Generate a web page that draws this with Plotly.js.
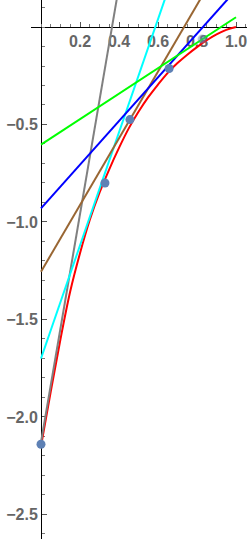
<!DOCTYPE html>
<html>
<head>
<meta charset="utf-8">
<script src="https://cdn.plot.ly/plotly-3.0.1.min.js"></script>
<style>html,body{margin:0;padding:0;background:#fff;}#chart{width:249px;height:541px;}</style>
</head>
<body>
<div id="chart"></div>
<script>
// Red curve
const curveX = [0, 0.05, 0.1, 0.15, 0.2, 0.25, 0.3, 0.35, 0.4, 0.45, 0.5, 0.55, 0.6, 0.65, 0.7, 0.75, 0.8, 0.85, 0.9, 0.95, 1.0];
const curveY = [-2.15, -1.87, -1.60, -1.355, -1.16, -0.99, -0.85, -0.73, -0.62, -0.52, -0.435, -0.36, -0.295, -0.235, -0.185, -0.142, -0.103, -0.068, -0.038, -0.015, 0];

// Sample points
const pointX = [0, 0.328, 0.456, 0.657, 0.826];
const pointY = [-2.14, -0.80, -0.475, -0.213, -0.062];

// Tangent lines: endpoints
const grayX = [0, 0.40],  grayY = [-2.13, 0.21];
const cyanX = [0, 0.65],  cyanY = [-1.70, 0.185];
const brownX = [0, 0.85], brownY = [-1.255, 0.199];
const blueX = [0, 1.0],   blueY = [-0.93, 0.19];
const greenX = [0, 1.0],  greenY = [-0.603, 0.05];

// Ticks
const xTickVals = [0.2, 0.4, 0.6, 0.8, 1.0];
const xTickText = ["0.2", "0.4", "0.6", "0.8", "1.0"];
const yTickVals = [-0.5, -1.0, -1.5, -2.0, -2.5];
const yTickText = ["\u22120.5", "\u22121.0", "\u22121.5", "\u22122.0", "\u22122.5"];

const xRange = [-0.0513, 1.0564];
const yRange = [-2.626, 0.1385];

function line(x, y, color) {
  return {x: x, y: y, type: 'scatter', mode: 'lines', line: {color: color, width: 2}, hoverinfo: 'skip'};
}

const traces = [
  {x: curveX, y: curveY, type: 'scatter', mode: 'lines', line: {color: '#ff0000', width: 2, shape: 'spline'}},
  line(grayX, grayY, '#808080'),
  line(cyanX, cyanY, '#00ffff'),
  line(brownX, brownY, '#996633'),
  line(blueX, blueY, '#0000ff'),
  line(greenX, greenY, '#00ff00'),
  {x: pointX, y: pointY, type: 'scatter', mode: 'markers',
   marker: {color: '#5e81b5', size: 9, opacity: [1, 1, 1, 1, 0.45]}, cliponaxis: false}
];

const tickFont = {family: 'Liberation Sans, Arial, sans-serif', size: 16, color: '#666666', weight: 'bold'};

const layout = {
  width: 249, height: 541,
  margin: {l: 31, r: 2, t: 0, b: 2},
  paper_bgcolor: '#ffffff', plot_bgcolor: '#ffffff',
  showlegend: false,
  xaxis: {
    range: xRange, anchor: 'free',
    position: (0 - yRange[0]) / (yRange[1] - yRange[0]),
    showline: true, linecolor: '#000', linewidth: 1,
    showgrid: false, zeroline: false,
    tickmode: 'array', tickvals: xTickVals, ticktext: xTickText,
    ticks: 'inside', ticklen: 5, tickcolor: '#555', tickwidth: 1,
    minor: {tickmode: 'linear', tick0: 0, dtick: 0.05, ticks: 'inside', ticklen: 3, tickcolor: '#777', showgrid: false},
    tickfont: tickFont, layer: 'below traces', fixedrange: true
  },
  yaxis: {
    range: yRange, anchor: 'free',
    position: (0 - xRange[0]) / (xRange[1] - xRange[0]),
    showline: true, linecolor: '#000', linewidth: 1,
    showgrid: false, zeroline: false,
    tickmode: 'array', tickvals: yTickVals, ticktext: yTickText,
    ticks: 'inside', ticklen: 5, tickcolor: '#555', tickwidth: 1,
    minor: {tickmode: 'linear', tick0: 0, dtick: 0.1, ticks: 'inside', ticklen: 3, tickcolor: '#777', showgrid: false},
    tickfont: tickFont, layer: 'below traces', fixedrange: true
  }
};

Plotly.newPlot('chart', traces, layout, {displayModeBar: false, staticPlot: true});
</script>
</body>
</html>
